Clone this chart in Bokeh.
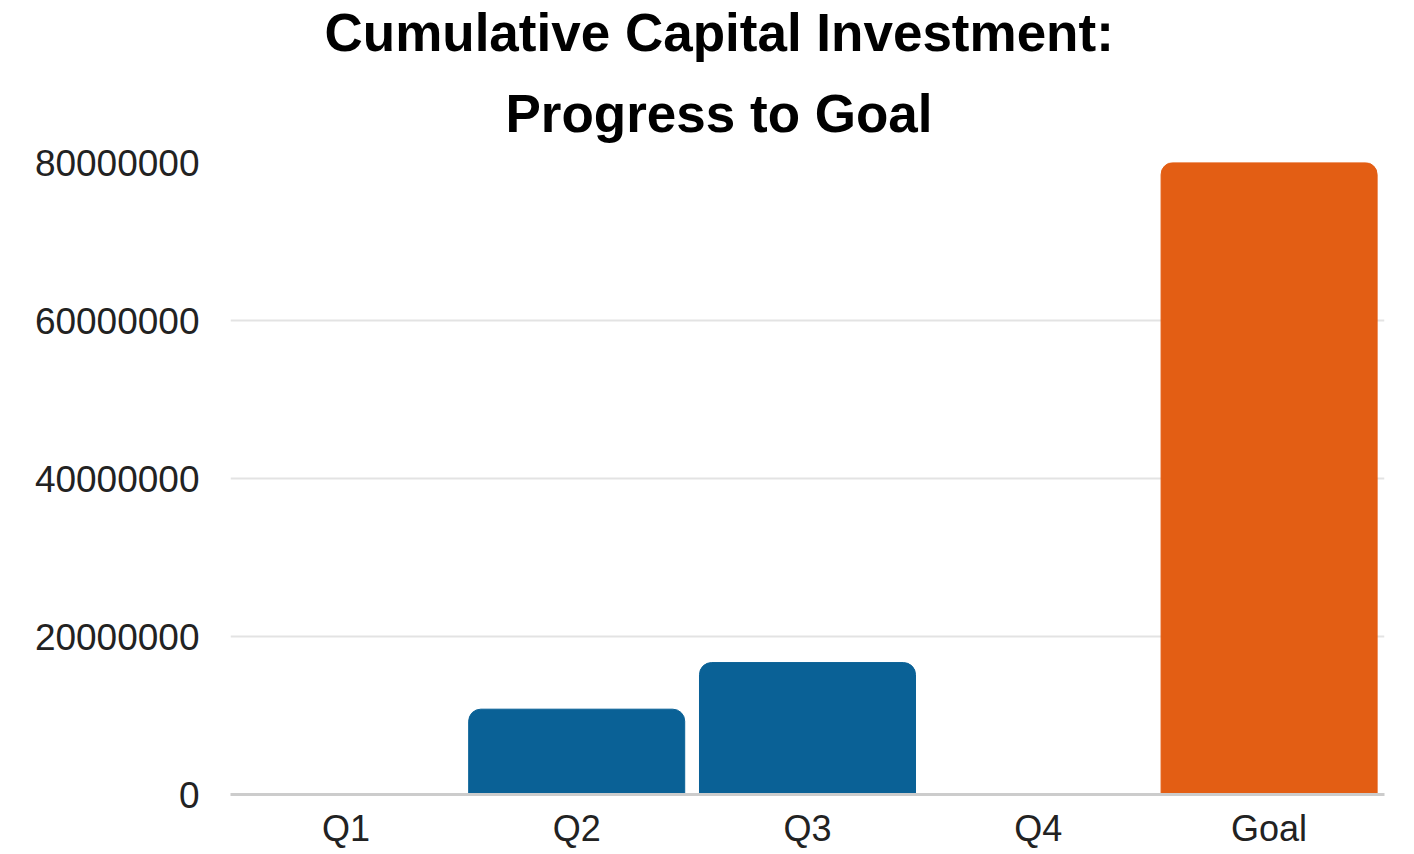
from bokeh.plotting import figure
from bokeh.models import ColumnDataSource, FixedTicker, BasicTickFormatter, Range1d, Title
from bokeh.embed import file_html
from bokeh.resources import INLINE

categories = ["Q1", "Q2", "Q3", "Q4", "Goal"]
values = [0, 10800000, 16700000, 0, 80000000]
colors = ["#0a6196", "#0a6196", "#0a6196", "#0a6196", "#e35e14"]
y_ticks = [0, 20000000, 40000000, 60000000, 80000000]

src = ColumnDataSource(dict(cat=categories, val=values, color=colors))

p = figure(x_range=categories, frame_width=1154, frame_height=632, output_backend="svg",
           toolbar_location=None, min_border_left=230, min_border_right=14,
           min_border_bottom=0, min_border_top=0)
p.y_range = Range1d(0, 80000000)

p.title = None
t2 = Title(text="Progress to Goal", align="left", text_font="Liberation Sans",
           text_font_size="53px", text_font_style="bold", text_color="#000000",
           standoff=40, offset=275)
t1 = Title(text="Cumulative Capital Investment:", align="left", text_font="Liberation Sans",
           text_font_size="53px", text_font_style="bold", text_color="#000000",
           standoff=0, offset=94)
p.add_layout(t2, "above")
p.add_layout(t1, "above")

p.vbar(x="cat", top="val", width=0.936, color="color", source=src,
       line_color="color", border_radius=(12, 12, 0, 0))

p.outline_line_color = None
p.xgrid.grid_line_color = None
p.ygrid.grid_line_color = "#e3e3e3"
p.ygrid.grid_line_width = 2

p.yaxis.ticker = FixedTicker(ticks=y_ticks)
p.yaxis.formatter = BasicTickFormatter(use_scientific=False)
p.yaxis.axis_line_color = None
p.yaxis.major_tick_line_color = None
p.yaxis.minor_tick_line_color = None
p.yaxis.major_tick_out = 0
p.yaxis.major_tick_in = 0
p.yaxis.major_label_text_font = "Liberation Sans"
p.yaxis.major_label_text_font_size = "37px"
p.yaxis.major_label_text_color = "#222222"
p.yaxis.major_label_standoff = 31

p.xaxis.axis_line_color = "#cccccc"
p.xaxis.axis_line_width = 3
p.xaxis.major_tick_line_color = None
p.xaxis.minor_tick_line_color = None
p.xaxis.major_tick_out = 0
p.xaxis.major_tick_in = 0
p.xaxis.major_label_text_font = "Liberation Sans"
p.xaxis.major_label_text_font_size = "36px"
p.xaxis.major_label_text_color = "#222222"
p.xaxis.major_label_standoff = 13

open("out.html", "w").write(file_html(p, INLINE))
